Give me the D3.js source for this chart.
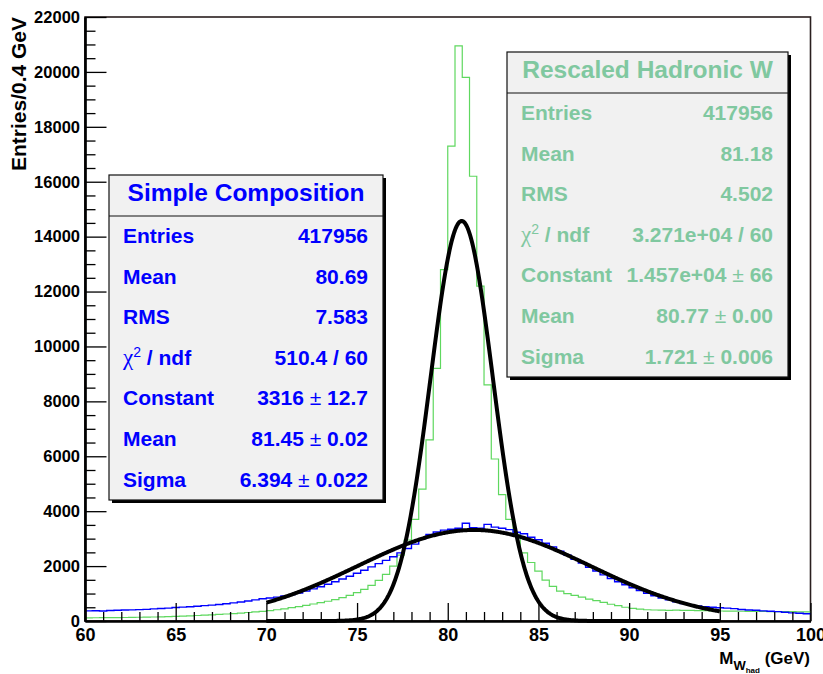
<!DOCTYPE html>
<html>
<head>
<meta charset="utf-8">
<script src="https://cdn.jsdelivr.net/npm/d3@7"></script>
<style>
  body { margin: 0; background: #fff; }
  text { font-family: "Liberation Sans", Arial, Helvetica, sans-serif; font-weight: bold; }
</style>
</head>
<body>
<div id="chart"></div>
<script>
// histogram binning: 100 bins of 0.4 GeV from 60 to 100
const xMin = 60, xMax = 100, binWidth = 0.4;

// "Simple Composition" (blue) bin contents
const blueCounts = [
  370, 375, 365, 380, 390, 400, 405, 415, 425, 440, 455, 470, 490, 505, 520, 540, 560, 580, 600, 630, 660, 690, 730, 770, 810,
  840, 870, 910, 960, 1020, 1090, 1170, 1250, 1340, 1430, 1530, 1630, 1740, 1850, 1970, 2090, 2210, 2340, 2480, 2640, 2800, 3000,
  3150, 3240, 3310, 3340, 3380, 3560, 3400, 3380, 3520, 3420, 3380, 3330, 3230, 3180, 3050, 2960, 2830, 2700, 2540, 2400, 2250,
  2110, 1960, 1820, 1680, 1550, 1430, 1320, 1210, 1110, 1010, 920, 840, 770, 700, 640, 590, 550, 520, 500, 480, 470, 450, 420,
  400, 390, 370, 355, 340, 320, 295, 280, 265
];

// "Rescaled Hadronic W" (green) bin contents
const greenCounts = [
  115, 118, 120, 122, 125, 128, 132, 136, 140, 146, 152, 160, 168, 178, 188, 200, 212, 225, 240, 255, 272, 290, 310, 330, 350,
  380, 410, 445, 485, 525, 570, 620, 670, 720, 780, 850, 930, 1030, 1150, 1300, 1480, 1700, 2000, 2400, 2950, 3700,
  4800, 6600, 9200, 12800, 17300, 20950, 19800, 16200, 12200, 8600, 5900, 4600, 3700, 3150, 2480,
  2130, 1820, 1490, 1260, 1090, 1000, 930, 870, 800, 740, 680, 610, 560, 500, 460, 430, 410, 400, 395, 390, 395, 390, 385,
  380, 375, 370, 365, 360, 358, 355, 352, 350, 348, 345, 342, 340, 338, 335, 332
];

// gaussian fits (range 70 - 95)
const fitRange = [70, 95];
const blueFit = { constant: 3316, mean: 81.45, sigma: 6.394 };
const greenFit = { constant: 14570, mean: 80.77, sigma: 1.721 };

// axis ticks
const xMajorTicks = [60, 65, 70, 75, 80, 85, 90, 95, 100];
const xMinorTicks = d3.range(60, 101, 1).filter(v => v % 5 !== 0);
const yMajorTicks = [0, 2000, 4000, 6000, 8000, 10000, 12000, 14000, 16000, 18000, 20000, 22000];
const yMinorTicks = d3.range(0, 22001, 500).filter(v => v % 2000 !== 0);

// stat boxes
const blueTitle = "Simple Composition";
const blueLabels = ["Entries", "Mean", "RMS", "χ² / ndf", "Constant", "Mean", "Sigma"];
const blueValues = ["417956", "80.69", "7.583", "510.4 / 60", "3316 ± 12.7", "81.45 ± 0.02", "6.394 ± 0.022"];
const greenTitle = "Rescaled Hadronic W";
const greenLabels = ["Entries", "Mean", "RMS", "χ² / ndf", "Constant", "Mean", "Sigma"];
const greenValues = ["417956", "81.18", "4.502", "3.271e+04 / 60", "1.457e+04 ± 66", "80.77 ± 0.00", "1.721 ± 0.006"];

const width = 823, height = 674;
const svg = d3.select("#chart").append("svg")
    .attr("width", width)
    .attr("height", height)
    .style("background-color", "white");

const x = d3.scaleLinear().domain([xMin, xMax]).range([85, 810.5]);
const y = d3.scaleLinear().domain([0, 22000]).range([621, 17]);

// frame
svg.append("rect")
    .attr("x", x(xMin)).attr("y", y(22000))
    .attr("width", x(xMax) - x(xMin)).attr("height", y(0) - y(22000))
    .attr("fill", "white")
    .attr("stroke", "#2a1f1f")
    .attr("stroke-width", 1.6);

// histograms as step lines
function stepPoints(counts) {
    const pts = counts.map((c, i) => [xMin + i * binWidth, c]);
    pts.push([xMax, counts[counts.length - 1]]);
    return pts;
}
const stepLine = d3.line()
    .x(d => x(d[0]))
    .y(d => y(d[1]))
    .curve(d3.curveStepAfter);

svg.append("path")
    .datum(stepPoints(greenCounts))
    .attr("d", stepLine)
    .attr("fill", "none")
    .attr("stroke", "#5fd85f")
    .attr("stroke-width", 1.2);

svg.append("path")
    .datum(stepPoints(blueCounts))
    .attr("d", stepLine)
    .attr("fill", "none")
    .attr("stroke", "#0000ff")
    .attr("stroke-width", 1.4);

// fit curves
const gaus = f => m => f.constant * Math.exp(-0.5 * Math.pow((m - f.mean) / f.sigma, 2));
const fitLine = d3.line().x(d => x(d[0])).y(d => y(d[1])).curve(d3.curveLinear);
const fitXs = d3.range(fitRange[0], fitRange[1] + 0.0001, 0.05);
[blueFit, greenFit].forEach(f => {
    svg.append("path")
        .datum(fitXs.map(m => [m, gaus(f)(m)]))
        .attr("d", fitLine)
        .attr("fill", "none")
        .attr("stroke", "black")
        .attr("stroke-width", 4)
        .attr("stroke-linejoin", "round");
});

// axes
function styleAxis(g) {
    g.selectAll(".tick line").attr("stroke", "black").attr("stroke-width", 1.3);
    g.select(".domain").attr("stroke", "black").attr("stroke-width", 2.2);
}

const yAxisMinor = svg.append("g")
    .attr("transform", `translate(${x(xMin)},0)`)
    .call(d3.axisLeft(y).tickValues(yMinorTicks).tickSize(-10.5).tickSizeOuter(0).tickFormat(""));
styleAxis(yAxisMinor);
const yAxis = svg.append("g")
    .attr("transform", `translate(${x(xMin)},0)`)
    .call(d3.axisLeft(y).tickValues(yMajorTicks).tickSize(-21.5).tickSizeOuter(0).tickPadding(5).tickFormat(d3.format("d")));
styleAxis(yAxis);
yAxis.selectAll("text")
    .attr("fill", "black")
    .style("font-size", "16.5px");

const xAxisMinor = svg.append("g")
    .attr("transform", `translate(0,${y(0)})`)
    .call(d3.axisBottom(x).tickValues(xMinorTicks).tickSize(-9).tickSizeOuter(0).tickFormat(""));
styleAxis(xAxisMinor);
const xAxis = svg.append("g")
    .attr("transform", `translate(0,${y(0)})`)
    .call(d3.axisBottom(x).tickValues(xMajorTicks).tickSize(-18).tickSizeOuter(0).tickPadding(7).tickFormat(d3.format("d")));
styleAxis(xAxis);
xAxis.selectAll("text")
    .attr("fill", "black")
    .style("font-size", "18px");

// axis titles
svg.append("text")
    .attr("transform", "translate(26,94) rotate(-90)")
    .attr("text-anchor", "middle")
    .style("font-size", "21px")
    .text("Entries/0.4 GeV");

const xt = svg.append("text")
    .attr("x", 810).attr("y", 664)
    .attr("text-anchor", "end")
    .style("font-size", "17px");
xt.append("tspan").text("M");
xt.append("tspan").attr("dy", 6).style("font-size", "13px").text("W");
xt.append("tspan").attr("dy", 3).style("font-size", "8px").text("had");
xt.append("tspan").attr("dy", -9).text(" (GeV)");

// stat boxes
function drawStats(box, title, labels, values, color) {
    const g = svg.append("g");
    const titleH = 41, rowH = 40.6;
    g.append("rect")
        .attr("x", box.x + 3).attr("y", box.y + 3)
        .attr("width", box.w).attr("height", box.h)
        .attr("fill", "black");
    g.append("rect")
        .attr("x", box.x).attr("y", box.y)
        .attr("width", box.w).attr("height", box.h)
        .attr("fill", "#f1f1f1")
        .attr("stroke", "#111")
        .attr("stroke-width", 1.2);
    g.append("line")
        .attr("x1", box.x).attr("x2", box.x + box.w)
        .attr("y1", box.y + titleH).attr("y2", box.y + titleH)
        .attr("stroke", "#111").attr("stroke-width", 1.2);
    g.append("text")
        .attr("x", box.x + box.w / 2)
        .attr("y", box.y + 26)
        .attr("text-anchor", "middle")
        .attr("fill", color)
        .style("font-size", "24.5px")
        .text(title);

    labels.forEach((lab, i) => {
        const yy = box.y + titleH + 27 + i * rowH;
        const t = g.append("text")
            .attr("x", box.x + 14).attr("y", yy)
            .attr("fill", color)
            .style("font-size", "21px");
        if (lab.startsWith("χ²")) {
            t.append("tspan")
                .style("font-family", "'Liberation Serif', 'DejaVu Serif', serif")
                .style("font-weight", "normal")
                .style("font-size", "23px")
                .text("χ");
            t.append("tspan")
                .attr("dy", -8)
                .style("font-size", "14px")
                .style("font-weight", "normal")
                .text("2");
            t.append("tspan").attr("dy", 8).text(lab.slice(2));
        } else {
            t.text(lab);
        }

        const v = g.append("text")
            .attr("x", box.x + box.w - 15).attr("y", yy)
            .attr("text-anchor", "end")
            .attr("fill", color)
            .style("font-size", "21px");
        const parts = values[i].split("±");
        if (parts.length === 2) {
            v.append("tspan").text(parts[0].trim() + " ");
            v.append("tspan").style("font-weight", "normal").text("±");
            v.append("tspan").text(" " + parts[1].trim());
        } else {
            v.text(values[i]);
        }
    });
}

drawStats({ x: 109, y: 175, w: 274, h: 325 }, blueTitle, blueLabels, blueValues, "#0000ff");
drawStats({ x: 507, y: 52, w: 281, h: 325 }, greenTitle, greenLabels, greenValues, "#80c8a0");
</script>
</body>
</html>
